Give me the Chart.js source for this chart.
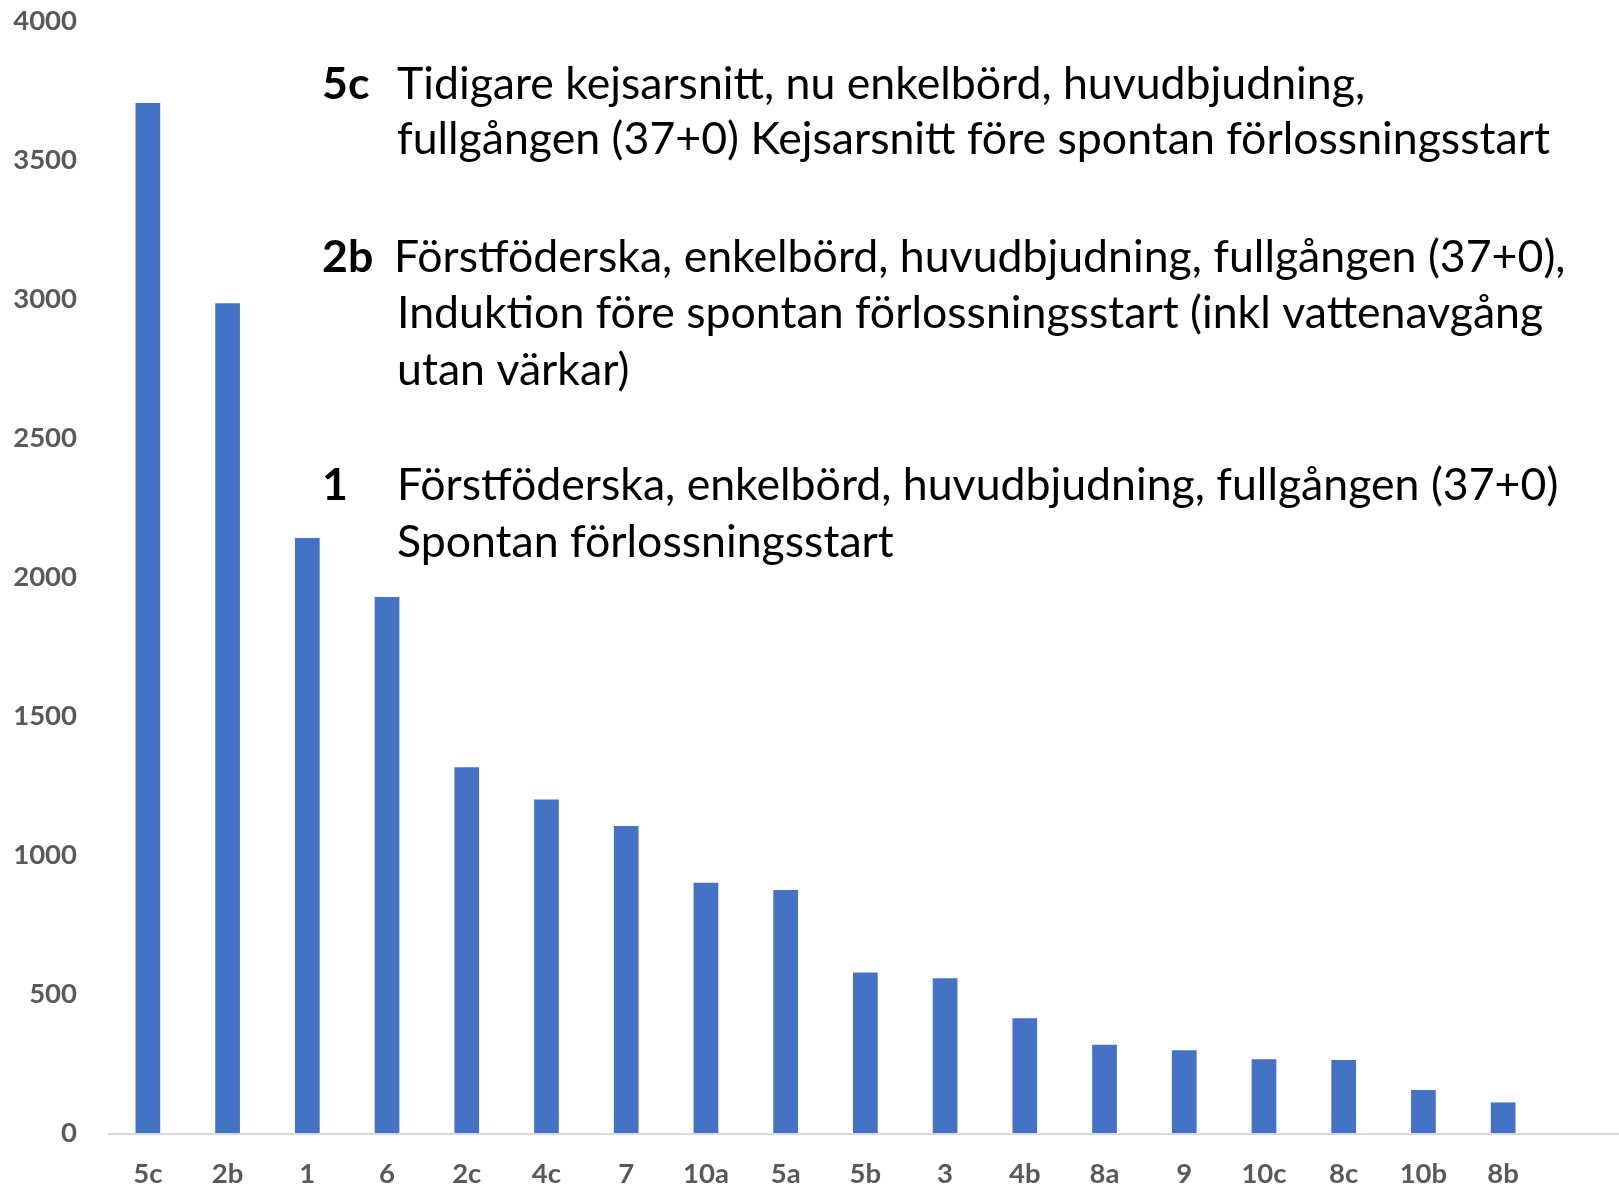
<!DOCTYPE html>
<html>
<head>
<meta charset="utf-8">
<script src="https://cdn.jsdelivr.net/npm/chart.js@4.4.0/dist/chart.umd.min.js"></script>
<style>
    html, body { margin: 0; padding: 0; background: #fff; overflow: hidden; }
    #wrap { position: relative; width: 1619px; height: 1188px; }
</style>
</head>
<body>
<div id="wrap"><canvas id="chart"></canvas></div>
<script>
const groups = ["5c", "2b", "1", "6", "2c", "4c", "7", "10a", "5a", "5b", "3", "4b", "8a", "9", "10c", "8c", "10b", "8b"];
const births = [3705, 2985, 2140, 1928, 1316, 1200, 1104, 900, 874, 577, 557, 413, 317, 298, 265, 263, 155, 110];
const yMax = 4000;
const yStep = 500;

const noteCodes = ["5c", "2b", "1"];
const noteLines = [
    ["Tidigare kejsarsnitt, nu enkelbörd, huvudbjudning,",
     "fullgången (37+0) Kejsarsnitt före spontan förlossningsstart"],
    ["Förstföderska, enkelbörd, huvudbjudning, fullgången (37+0),",
     "Induktion före spontan förlossningsstart (inkl vattenavgång",
     "utan värkar)"],
    ["Förstföderska, enkelbörd, huvudbjudning, fullgången (37+0)",
     "Spontan förlossningsstart"]
];

// layout of the text block (pixels)
const noteBaselines = [[99, 154], [272, 328, 385], [500, 557]];
const codeX = 322;
const textX = 397;
const fitLine = "Förstföderska, enkelbörd, huvudbjudning, fullgången (37+0),";
const fitWidth = 1172;

Chart.defaults.font.family = "Lato, 'Open Sans', sans-serif";

const baseline = {
    id: "baseline",
    afterDatasetsDraw(chart) {
        const ctx = chart.ctx;
        const y = Math.round(chart.scales.y.getPixelForValue(0)) + 1;
        ctx.save();
        ctx.strokeStyle = "#d9d9d9";
        ctx.lineWidth = 2;
        ctx.beginPath();
        ctx.moveTo(chart.chartArea.left, y);
        ctx.lineTo(chart.width, y);
        ctx.stroke();
        ctx.restore();
    }
};

const notes = {
    id: "notes",
    afterDraw(chart) {
        const ctx = chart.ctx;
        ctx.save();
        ctx.font = "100px Lato";
        const size = 100 * fitWidth / ctx.measureText(fitLine).width;
        ctx.fillStyle = "#000";
        ctx.textBaseline = "alphabetic";
        noteCodes.forEach((code, i) => {
            ctx.font = "bold " + size + "px Lato";
            ctx.fillText(code, codeX, noteBaselines[i][0]);
            ctx.font = size + "px Lato";
            noteLines[i].forEach((line, j) => {
                const x = (i === 1 && j === 0) ? textX - 3 : textX;
                ctx.fillText(line, x, noteBaselines[i][j]);
            });
        });
        ctx.restore();
    }
};

const canvas = document.getElementById("chart");
canvas.width = 1619;
canvas.height = 1188;
canvas.style.width = "1619px";
canvas.style.height = "1188px";

new Chart(canvas.getContext("2d"), {
    type: "bar",
    data: {
        labels: groups,
        datasets: [{
            data: births,
            backgroundColor: "#4472c4",
            barPercentage: 0.31,
            categoryPercentage: 1.0
        }]
    },
    options: {
        responsive: false,
        animation: false,
        devicePixelRatio: 1,
        layout: { padding: { top: 21, right: 76, left: 0, bottom: 0 } },
        plugins: {
            legend: { display: false },
            tooltip: { enabled: false }
        },
        scales: {
            x: {
                grid: { display: false, drawTicks: false },
                border: { display: false },
                ticks: {
                    color: "#595959",
                    font: { size: 27.5, weight: "bold" },
                    padding: 25,
                    maxRotation: 0
                },
                afterFit(scale) {
                    scale.height = 55;
                    scale.paddingLeft = 0;
                    scale.paddingRight = 0;
                }
            },
            y: {
                min: 0,
                max: yMax,
                grid: { display: false, drawTicks: false },
                border: { display: false },
                ticks: {
                    stepSize: yStep,
                    color: "#595959",
                    font: { size: 27.5, weight: "bold" },
                    padding: 31,
                    callback: v => String(v)
                },
                afterFit(scale) {
                    scale.width = 108;
                    scale.paddingTop = 0;
                    scale.paddingBottom = 0;
                }
            }
        }
    },
    plugins: [baseline, notes]
});
</script>
</body>
</html>
